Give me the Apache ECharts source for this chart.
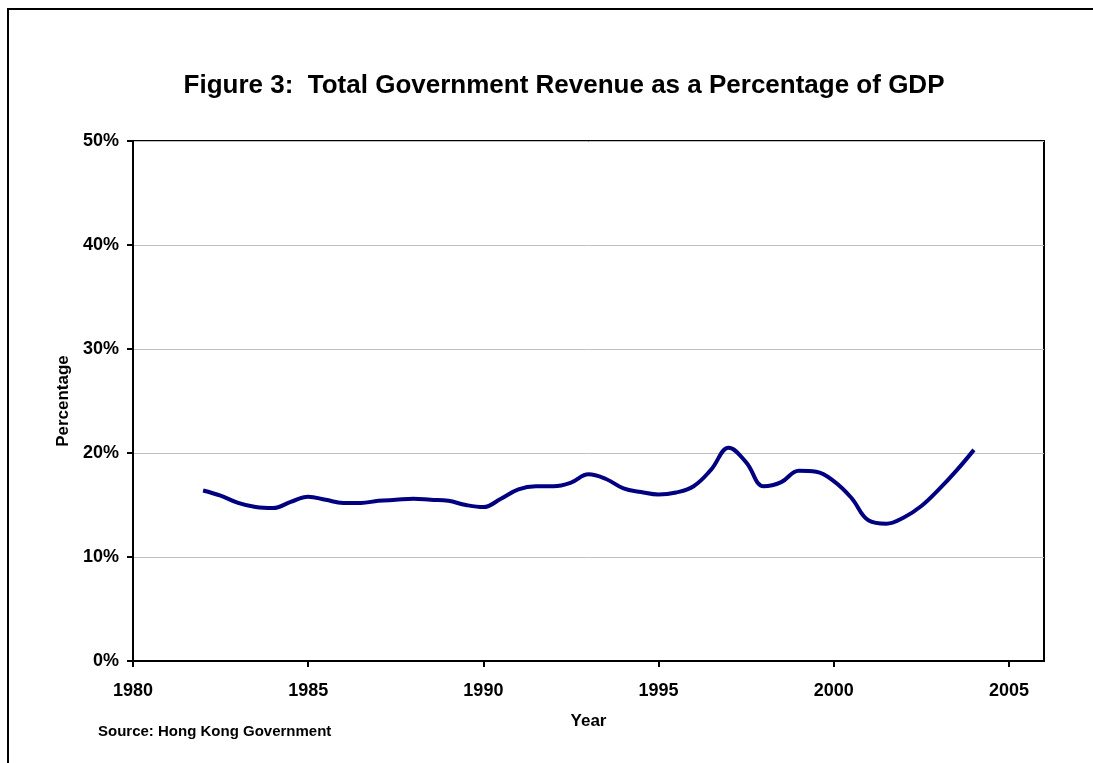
<!DOCTYPE html>
<html>
<head>
<meta charset="utf-8">
<script src="https://cdn.jsdelivr.net/npm/echarts@6/dist/echarts.min.js"></script>
<style>
  html, body { margin: 0; padding: 0; background: #fff; }
  #chart { width: 1093px; height: 763px; }
</style>
</head>
<body>
<div id="chart"></div>
<script>
  // revenue as % of GDP at half-year steps
  var years = [1982, 1982.5, 1983, 1983.5, 1984, 1984.5, 1985, 1985.5, 1986, 1986.5,
    1987, 1987.5, 1988, 1988.5, 1989, 1989.5, 1990, 1990.5, 1991, 1991.5,
    1992, 1992.5, 1993, 1993.5, 1994, 1994.5, 1995, 1995.5, 1996, 1996.5,
    1997, 1997.5, 1998, 1998.5, 1999, 1999.5, 2000, 2000.5, 2001, 2001.5,
    2002, 2002.5, 2003, 2003.5, 2004];
  var revenue = [16.4, 15.9, 15.2, 14.8, 14.7, 15.3, 15.8, 15.5, 15.2, 15.2,
    15.4, 15.5, 15.6, 15.5, 15.4, 15.0, 14.8, 15.6, 16.5, 16.8,
    16.8, 17.15, 17.95, 17.5, 16.6, 16.25, 16.0, 16.2, 16.8, 18.4,
    20.5, 19.1, 16.8, 17.2, 18.3, 18.2, 17.3, 15.7, 13.5, 13.2,
    13.8, 14.9, 16.5, 18.3, 20.3];
  var xTicks = [1980, 1985, 1990, 1995, 2000, 2005];
  var yTicks = [0, 10, 20, 30, 40, 50];

  var font = 'Liberation Sans, Arial, sans-serif';
  var points = years.map(function (y, i) { return [y, revenue[i]]; });

  var chart = echarts.init(document.getElementById('chart'));
  chart.setOption({
    animation: false,
    title: {
      text: 'Figure 3:  Total Government Revenue as a Percentage of GDP',
      left: 559,
      top: 68,
      textAlign: 'center',
      textStyle: { fontFamily: font, fontSize: 26, fontWeight: 'bold', color: '#000' }
    },
    graphic: [{
      type: 'rect',
      shape: { x: 8, y: 9, width: 1200, height: 900 },
      style: { fill: 'none', stroke: '#000', lineWidth: 2 },
      silent: true
    }, {
      type: 'text',
      left: 98,
      top: 724,
      style: { text: 'Source: Hong Kong Government', fontFamily: font, fontSize: 15, fontWeight: 'bold', fill: '#000' }
    }],
    grid: {
      left: 133,
      top: 141,
      width: 911,
      height: 520,
      show: true,
      borderColor: '#000',
      borderWidth: 2,
      backgroundColor: 'transparent'
    },
    xAxis: {
      type: 'value',
      min: xTicks[0],
      max: 2006,
      interval: 5,
      name: 'Year',
      nameLocation: 'middle',
      nameGap: 52,
      nameTextStyle: { fontFamily: font, fontSize: 17, fontWeight: 'bold', color: '#000' },
      axisLine: { lineStyle: { color: '#000', width: 2 } },
      axisTick: { length: 6, lineStyle: { color: '#000', width: 2 } },
      axisLabel: {
        fontFamily: font, fontSize: 18, fontWeight: 'bold', color: '#000', margin: 21,
        showMaxLabel: false,
        formatter: function (v) { return xTicks.indexOf(v) >= 0 ? String(v) : ''; }
      },
      splitLine: { show: false }
    },
    yAxis: {
      type: 'value',
      min: yTicks[0],
      max: yTicks[yTicks.length - 1],
      interval: 10,
      name: 'Percentage',
      nameLocation: 'middle',
      nameGap: 57,
      nameTextStyle: { fontFamily: font, fontSize: 17, fontWeight: 'bold', color: '#000' },
      axisLine: { lineStyle: { color: '#000', width: 2 } },
      axisTick: { length: 6, lineStyle: { color: '#000', width: 2 } },
      axisLabel: { fontFamily: font, fontSize: 18, fontWeight: 'bold', color: '#000', margin: 14, formatter: '{value}%' },
      splitLine: { lineStyle: { color: '#c0c0c0', width: 1 } }
    },
    series: [{
      type: 'line',
      data: points,
      smooth: 0.4,
      showSymbol: false,
      lineStyle: { color: '#000080', width: 4 }
    }]
  });
</script>
</body>
</html>
